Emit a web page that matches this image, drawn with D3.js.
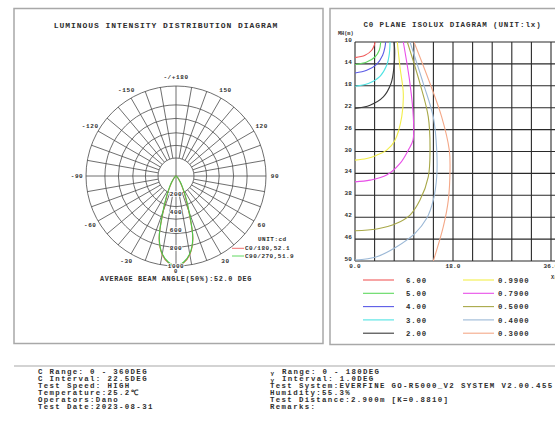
<!DOCTYPE html>
<html><head><meta charset="utf-8">
<script src="https://cdn.jsdelivr.net/npm/d3@7"></script>
<style>body{margin:0;background:#fff}svg{display:block}</style>
</head><body><svg id="c" width="555" height="435"></svg>
<script>
// ---------- DATA ----------
const polarAngles = [0, 5, 10, 15, 20, 25, 30, 35, 40, 45, 50, 60, 70, 80, 90];
const c0Values  = [1000, 968, 885, 725, 410, 232, 130, 75, 45, 26, 15, 8, 4, 2, 0];
const c90Values = [1000, 962, 878, 718, 430, 250, 146, 86, 50, 28, 16, 8, 4, 2, 0];
const ringValues = [200, 340, 480, 640, 790, 1000];
const intensityLabels = [200, 400, 600, 800, 1000];
const angleLabels = [0, 30, 60, 90, 120, 150, 180, -150, -120, -90, -60, -30];
const polarLegend = ["C0/180,52.1", "C90/270,51.9"];

const isoLevels = ["6.00", "5.00", "4.00", "3.00", "2.00", "0.9900", "0.7900", "0.5000", "0.4000", "0.3000"];
const iso6   = [[0,12.85],[1.84,12.43],[3.07,11.51],[3.54,10.6],[3.67,10]];
const iso5   = [[0,14.12],[2.15,13.65],[3.67,12.74],[4.46,11.51],[4.72,10]];
const iso4   = [[0,15.65],[2.15,15.16],[3.98,14.07],[5.08,12.41],[5.51,10.91],[5.63,10]];
const iso3   = [[0,18.08],[2.45,17.59],[4.59,16.26],[5.82,14.25],[6.31,12.11],[6.43,10]];
const iso2   = [[0,22.15],[2.76,21.55],[5.2,20.03],[6.61,17.59],[7.16,14.55],[7.29,11.51],[7.16,10]];
const iso099 = [[0,31.58],[2.15,31.27],[3.99,30.67],[5.82,29.75],[7.35,27.93],[8.58,23.68],[8.87,19.41],[8.26,14.56],[7.77,10]];
const iso079 = [[0,35.54],[2.76,35.23],[5.82,34.31],[8.27,32.18],[9.79,29.75],[10.65,27.93],[10.71,23.68],[10.1,17.59],[8.87,10]];
const iso050 = [[0,44.47],[3.99,44.16],[7.66,43.12],[10.1,41.61],[11.94,38.87],[13.46,34.62],[13.78,29.75],[13.46,23.68],[11.94,17.59],[9.61,10]];
const iso040 = [[0,49.82],[3.99,49.22],[7.66,47.39],[11.02,44.95],[13.17,42.21],[14.38,38.87],[15.01,34.62],[15.01,29.75],[14.38,23.68],[12.55,17.59],[10.1,10]];
const iso030 = [[14.38,50],[16.22,43.74],[17.14,38.87],[17.45,33.4],[17.32,29.75],[15.92,23.68],[13.78,17.59],[10.84,10]];
const isoColors = ["#f05a5a", "#5fd85f", "#5a5ae6", "#4fe3e3", "#3a3a3a", "#f2ee4a", "#e84fe8", "#a8a848", "#9bb8d6", "#f4a888"];
const isoYTicks = [10, 14, 18, 22, 26, 30, 34, 38, 42, 46, 50];
const isoXLabels = [0, 18, 36];

const infoLeft = ["C Range:  0 - 360DEG", "C Interval: 22.5DEG", "Test Speed: HIGH", "Temperature:25.2\u2103", "Operators:Dano", "Test Date:2023-08-31"];
const infoRight = ["Range:  0 - 180DEG", "Interval:  1.0DEG", "Test System:EVERFINE GO-R5000_V2 SYSTEM V2.00.455", "Humidity:55.3%", "Test Distance:2.900m [K=0.8810]", "Remarks:"];

// ---------- DRAW ----------
const MONO = "'Liberation Mono','DejaVu Sans Mono',monospace";
const svg = d3.select("#c");
svg.append("rect").attr("width", 555).attr("height", 435).attr("fill", "#fff");

function txt(g, x, y, s, size, ls, anchor, base) {
  return g.append("text").attr("x", x).attr("y", y)
    .attr("text-anchor", anchor || "start")
    .attr("dominant-baseline", base || "auto")
    .attr("font-family", MONO).attr("font-size", size).attr("font-weight", "bold")
    .attr("letter-spacing", ls).attr("fill", "#2e2e2e").text(s);
}

// panels
svg.append("rect").attr("x", 14).attr("y", 8.5).attr("width", 309).attr("height", 335)
  .attr("fill", "none").attr("stroke", "#a8a8a8").attr("stroke-width", 1.5);
svg.append("rect").attr("x", 330).attr("y", 8.5).attr("width", 240).attr("height", 336)
  .attr("fill", "none").attr("stroke", "#a8a8a8").attr("stroke-width", 1.5);
svg.append("line").attr("x1", 14).attr("x2", 555).attr("y1", 366).attr("y2", 366)
  .attr("stroke", "#a8a8a8").attr("stroke-width", 1.2);

// ----- polar -----
const cx = 176, cy = 176;
const r = d3.scaleLinear().domain([0, 1000]).range([0, 90]);
const rad = a => a * Math.PI / 180;
const P = svg.append("g");
txt(P, 166, 27.5, "LUMINOUS INTENSITY DISTRIBUTION DIAGRAM", 8, 0.95, "middle");

const grid = P.append("g").attr("stroke", "#4a4a4a").attr("stroke-width", 0.8).attr("fill", "none");
ringValues.forEach(v => grid.append("circle").attr("cx", cx).attr("cy", cy).attr("r", r(v)));
d3.range(-180, 180, 10).forEach(a => {
  const r0 = (a % 90 === 0) ? 0 : r(ringValues[0]);
  grid.append("line")
    .attr("x1", cx + r0 * Math.sin(rad(a))).attr("y1", cy + r0 * Math.cos(rad(a)))
    .attr("x2", cx + r(1000) * Math.sin(rad(a))).attr("y2", cy + r(1000) * Math.cos(rad(a)));
});

angleLabels.forEach(a => {
  const rr = a === 0 ? 96 : 99;
  txt(P, cx + rr * Math.sin(rad(a)), cy + rr * Math.cos(rad(a)), a === 180 ? "-/+180" : String(a),
      a === 0 ? 5.5 : 6, 0.6, "middle", "middle");
});

const radial = d3.lineRadial()
  .angle(d => Math.PI - rad(d.a)).radius(d => r(d.v))
  .curve(d3.curveCatmullRomClosed.alpha(0.5));
function series(vals) {
  const pts = [];
  for (let i = polarAngles.length - 1; i > 0; i--) pts.push({a: -polarAngles[i], v: vals[i]});
  for (let i = 0; i < polarAngles.length; i++) pts.push({a: polarAngles[i], v: vals[i]});
  return pts;
}
P.append("path").attr("transform", `translate(${cx},${cy})`).attr("d", radial(series(c0Values)))
  .attr("fill", "none").attr("stroke", "#d86a4a").attr("stroke-width", 1.1);
P.append("path").attr("transform", `translate(${cx},${cy})`).attr("d", radial(series(c90Values)))
  .attr("fill", "none").attr("stroke", "#4cc84c").attr("stroke-width", 1.1);

intensityLabels.forEach(v => {
  txt(P, cx, cy + r(v), String(v), 6, 0.5, "middle", "middle")
    .attr("stroke", "#fff").attr("stroke-width", 1.6).attr("paint-order", "stroke");
});

txt(P, 176, 281, "AVERAGE BEAM ANGLE(50%):52.0 DEG", 6.8, 0.67, "middle");

txt(P, 258, 240.5, "UNIT:cd", 6, 0.5);
["#f07070", "#60d860"].forEach((c, i) => {
  const yy = 248.3 + i * 7.7;
  P.append("line").attr("x1", 232).attr("x2", 244).attr("y1", yy).attr("y2", yy).attr("stroke", c).attr("stroke-width", 1);
  txt(P, 245, yy + 2.1, polarLegend[i], 6, 0.5);
});

// ----- isolux -----
const X = d3.scaleLinear().domain([0, 36]).range([355, 551]);
const Y = d3.scaleLinear().domain([10, 50]).range([42, 261]);
const I = svg.append("g");
txt(I, 452.5, 26.5, "C0 PLANE ISOLUX DIAGRAM (UNIT:lx)", 7.5, 0.9, "middle");
txt(I, 338, 35, "MH(m)", 5.2, 0);

const ig = I.append("g").attr("stroke", "#2a2a2a").attr("stroke-width", 1.1);
d3.range(0, 11).forEach(i => {
  const xv = i * 3.6;
  ig.append("line").attr("x1", X(xv)).attr("x2", X(xv)).attr("y1", Y(10)).attr("y2", Y(50));
});
isoYTicks.forEach(t => ig.append("line").attr("x1", X(0)).attr("x2", X(36) + 6).attr("y1", Y(t)).attr("y2", Y(t)));

isoYTicks.forEach(t => txt(I, 352, Y(t), String(t), 6, 0.2, "end"));
isoXLabels.forEach(t => txt(I, X(t), 267.5, t.toFixed(1), 6, 0.2, "middle"));
txt(I, 551, 279, "X(m)", 5.2, 0);

svg.append("clipPath").attr("id", "pc").append("rect").attr("x", X(0)).attr("y", Y(10))
  .attr("width", X(36) - X(0) + 10).attr("height", Y(50) - Y(10));
const isoCurves = [iso6, iso5, iso4, iso3, iso2, iso099, iso079, iso050, iso040, iso030];
const line = d3.line().x(d => X(d[0])).y(d => Y(d[1])).curve(d3.curveCatmullRom.alpha(0.5));
const cg = I.append("g").attr("clip-path", "url(#pc)");
isoCurves.forEach((c, i) => cg.append("path").attr("d", line(c)).attr("fill", "none")
  .attr("stroke", isoColors[i]).attr("stroke-width", 1.1));

isoLevels.forEach((lv, i) => {
  const col = Math.floor(i / 5), row = i % 5;
  const yy = 280 + row * 13.3;
  const lx = col === 0 ? 363 : 463;
  I.append("line").attr("x1", lx).attr("x2", lx + 31).attr("y1", yy).attr("y2", yy)
    .attr("stroke", isoColors[i]).attr("stroke-width", 1.1);
  txt(I, col === 0 ? 406 : 498, yy + 2.6, lv, 7.3, 0.85);
});

// ----- info -----
const INF = svg.append("g");
infoLeft.forEach((t, i) => txt(INF, 38, 374.3 + i * 6.95, t, 7.4, 1.35));
infoRight.forEach((t, i) => txt(INF, i < 2 ? 282 : 270, 374.3 + i * 6.95, t, 7.4, 1.35));
[0, 1].forEach(i => txt(INF, 270.5, 375.3 + i * 6.95, "\u03B3", 6, 0));
</script></body></html>
